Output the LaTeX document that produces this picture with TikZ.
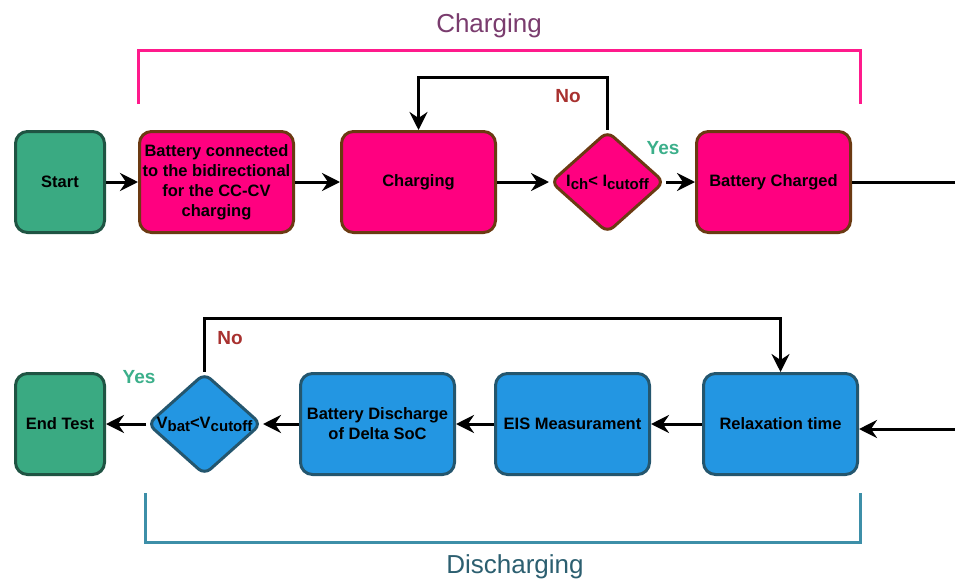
\documentclass[tikz,border=0pt]{standalone}
\usepackage{fontspec}
\setmainfont{Liberation Sans}
\usepackage{tikz}
\usetikzlibrary{arrows.meta,positioning,shapes.geometric}
\definecolor{termGreen}{HTML}{3AAA82}
\definecolor{termEdge}{HTML}{1F5443}
\definecolor{chPink}{HTML}{FF0080}
\definecolor{chEdge}{HTML}{6B3A12}
\definecolor{disBlue}{HTML}{2396E2}
\definecolor{disEdge}{HTML}{24566E}
\definecolor{brPink}{HTML}{FF1A8C}
\definecolor{brBlue}{HTML}{3D8FA8}
\definecolor{titlePurple}{HTML}{7A3C6E}
\definecolor{titleTeal}{HTML}{2C5F70}
\definecolor{noRed}{HTML}{A8312F}
\definecolor{yesGreen}{HTML}{3BAF8A}
\newcommand{\lowtxt}[1]{\raisebox{-0.35ex}{\fontsize{15}{15}\selectfont #1}}
\tikzset{
  fc/box/.style={draw, rounded corners=12pt, line width=3pt, minimum width=154pt, minimum height=101pt,
    align=center, inner sep=1pt, font=\fontsize{16.5}{20}\selectfont\bfseries},
  fc/term/.style={fc/box, minimum width=89pt, fill=termGreen, draw=termEdge},
  fc/charge/.style={fc/box, fill=chPink, draw=chEdge},
  fc/disch/.style={fc/box, fill=disBlue, draw=disEdge},
  fc/decision/.style={draw, diamond, rounded corners=8pt, line width=3pt, minimum width=114pt, minimum height=102pt,
    inner sep=0pt, inner xsep=-5pt, font=\fontsize{16.5}{20}\selectfont\bfseries},
  fc/line/.style={line width=3pt},
  fc/arr/.style={fc/line, -{Stealth[length=18pt,width=18pt,inset=6pt]}},
  fc/bracket/.style={line width=3pt},
  fc/yes/.style={font=\fontsize{19}{19}\selectfont\bfseries, text=yesGreen},
  fc/no/.style={font=\fontsize{19}{19}\selectfont\bfseries, text=noRed},
  fc/title/.style={font=\fontsize{26}{26}\selectfont}
}
\begin{document}
\begin{tikzpicture}[x=1pt, y=1pt]
  \useasboundingbox (0,0) rectangle (955,-581);

  % charging row
  \node[fc/term] (start) at (60,-182) {Start};
  \node[fc/charge, right=32pt of start] (connect) {Battery connected\\to the bidirectional\\for the CC-CV\\charging};
  \node[fc/charge, right=45pt of connect] (charging) {Charging};
  \node[fc/decision, fill=chPink, draw=chEdge, right=52pt of charging] (icheck) {I\lowtxt{ch}< I\lowtxt{cutoff}};
  \node[fc/charge, right=29pt of icheck] (charged) {Battery Charged};
  \coordinate (outA) at (955,-182);

  \draw[fc/arr] (start) -- (connect);
  \draw[fc/arr] (connect) -- (charging);
  \draw[fc/arr] (charging) -- (icheck);
  \draw[fc/arr] (icheck) -- (charged);
  \draw[fc/line] (charged) -- (outA);
  \draw[fc/arr] (icheck.north) -- ++(0,52) -| (charging.north);
  \node[fc/no] (noA) at (568,-96) {No};
  \node[fc/yes] (yesA) at (663,-148) {Yes};

  % discharging row
  \node[fc/term] (endtest) at (60,-424) {End Test};
  \node[fc/decision, fill=disBlue, draw=disEdge, right=40pt of endtest] (vcheck) {V\lowtxt{bat}<V\lowtxt{cutoff}};
  \node[fc/disch, right=36pt of vcheck] (discharge) {Battery Discharge\\of Delta SoC};
  \node[fc/disch, right=38pt of discharge] (eis) {EIS Measurament};
  \node[fc/disch, right=51pt of eis] (relax) {Relaxation time};
  \coordinate (inB) at (955,-429);

  \draw[fc/arr] (inB) -- (inB -| relax.east);
  \draw[fc/arr] (relax) -- (eis);
  \draw[fc/arr] (eis) -- (discharge);
  \draw[fc/arr] (discharge) -- (vcheck);
  \draw[fc/arr] (vcheck) -- (endtest);
  \draw[fc/arr] (vcheck.north) -- ++(0,53) -| (relax.north);
  \node[fc/no] (noB) at (230,-338) {No};
  \node[fc/yes] (yesB) at (139,-377) {Yes};

  % phase brackets
  \draw[fc/bracket, draw=brPink] (138,-104) |- (860,-50) -- (860,-104);
  \node[fc/title, text=titlePurple] (chTitle) at (489,-26) {Charging};
  \draw[fc/bracket, draw=brBlue] (145,-493) |- (860,-542) -- (860,-493);
  \node[fc/title, text=titleTeal] (disTitle) at (515,-567) {Discharging};
\end{tikzpicture}
\end{document}
